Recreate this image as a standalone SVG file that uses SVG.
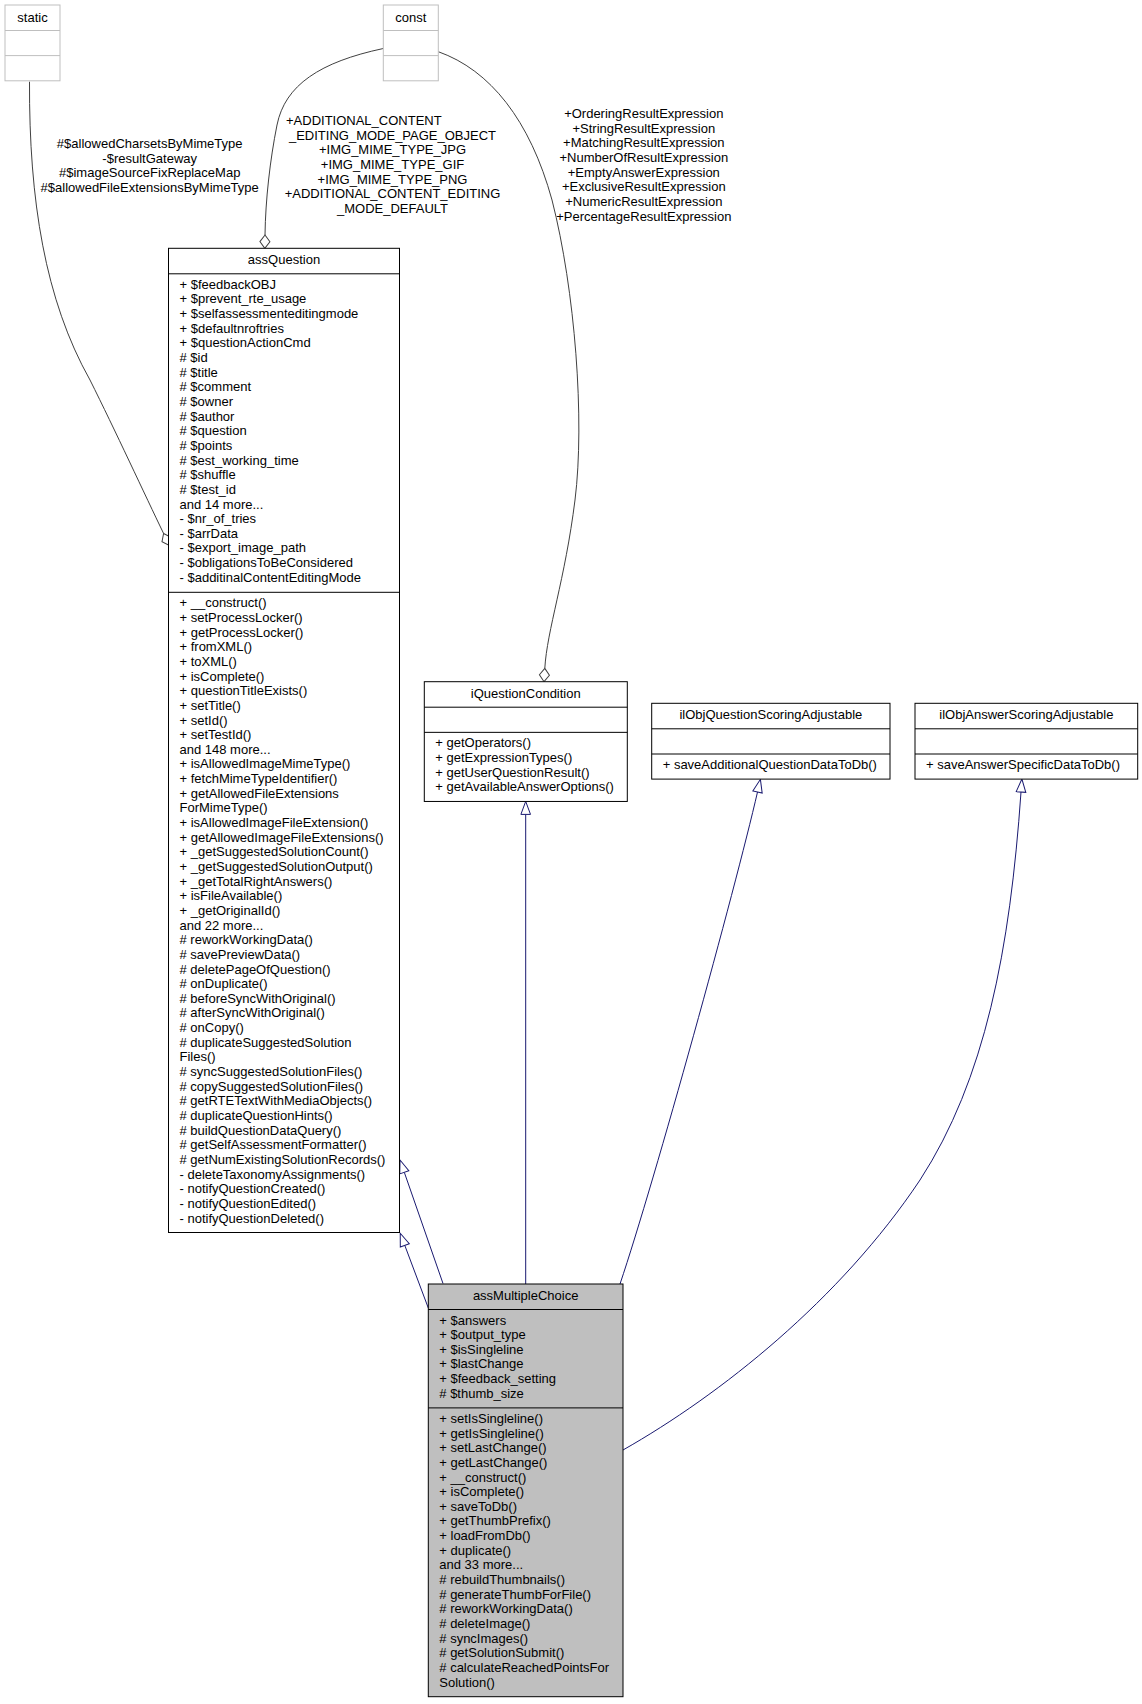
<svg xmlns="http://www.w3.org/2000/svg" width="1142" height="1704" viewBox="0 0 1142 1704">
<style>
.t{font-family:"Liberation Sans",Arial,Helvetica,sans-serif;font-size:13px;fill:#000}
.c{text-anchor:middle}
.box{fill:#fff;stroke:#000;stroke-width:1}
.ext{fill:#fff;stroke:#bfbfbf;stroke-width:1}
.cur{fill:#bfbfbf;stroke:#000;stroke-width:1}
.sep{stroke:#000;stroke-width:1}
.sepg{stroke:#bfbfbf;stroke-width:1}
.agg{fill:none;stroke:#404040;stroke-width:1}
.inh{fill:none;stroke:#191970;stroke-width:1}
</style>
<defs>
<marker id="tri" viewBox="0 0 13 9.6" refX="0" refY="4.8" markerWidth="13" markerHeight="9.6" markerUnits="userSpaceOnUse" orient="auto" overflow="visible">
<path d="M0,0 L13,4.8 L0,9.6 Z" fill="#fff" stroke="#191970" stroke-width="1"/>
</marker>
<marker id="dia" viewBox="0 0 13.3 10" refX="0" refY="5" markerWidth="13.3" markerHeight="10" markerUnits="userSpaceOnUse" orient="auto" overflow="visible">
<path d="M0,5 L6.65,0 L13.3,5 L6.65,10 Z" fill="#fff" stroke="#404040" stroke-width="1"/>
</marker>
</defs>
<rect width="1142" height="1704" fill="#fff"/>

<g id="connectors">
<path class="agg" d="M29.5,81.7 C29,200 45,300 90,380 C115,430 145,495 163.6,533.5" marker-end="url(#dia)"/>
<text class="t c"><tspan x="149.7" y="148">#$allowedCharsetsByMimeType</tspan><tspan x="149.7" dy="14.65">-$resultGateway</tspan><tspan x="149.7" dy="14.65">#$imageSourceFixReplaceMap</tspan><tspan x="149.7" dy="14.65">#$allowedFileExtensionsByMimeType</tspan></text>

<path class="agg" d="M383.3,48.5 C320,62 285,85 277,125 C270,160 265.5,200 265,235" marker-end="url(#dia)"/>
<text class="t"><tspan x="286" y="125">+ADDITIONAL_CONTENT</tspan></text>
<text class="t c"><tspan x="392.5" y="139.65">_EDITING_MODE_PAGE_OBJECT</tspan><tspan x="392.5" dy="14.65">+IMG_MIME_TYPE_JPG</tspan><tspan x="392.5" dy="14.65">+IMG_MIME_TYPE_GIF</tspan><tspan x="392.5" dy="14.65">+IMG_MIME_TYPE_PNG</tspan><tspan x="392.5" dy="14.65">+ADDITIONAL_CONTENT_EDITING</tspan><tspan x="392.5" dy="14.65">_MODE_DEFAULT</tspan></text>

<path class="agg" d="M438.3,51.7 C490,70 530,120 552,200 C575,290 585,420 575,500 C565,580 547,630 544.8,668.4" marker-end="url(#dia)"/>
<text class="t c"><tspan x="643.8" y="118">+OrderingResultExpression</tspan><tspan x="643.8" dy="14.65">+StringResultExpression</tspan><tspan x="643.8" dy="14.65">+MatchingResultExpression</tspan><tspan x="643.8" dy="14.65">+NumberOfResultExpression</tspan><tspan x="643.8" dy="14.65">+EmptyAnswerExpression</tspan><tspan x="643.8" dy="14.65">+ExclusiveResultExpression</tspan><tspan x="643.8" dy="14.65">+NumericResultExpression</tspan><tspan x="643.8" dy="14.65">+PercentageResultExpression</tspan></text>

<path class="inh" d="M443,1283.5 L404.3,1172.3" marker-end="url(#tri)"/>
<path class="inh" d="M428.3,1308 L404.8,1245.4" marker-end="url(#tri)"/>
<path class="inh" d="M525.7,1284 L525.7,814.4" marker-end="url(#tri)"/>
<path class="inh" d="M620,1284 C655,1180 735,890 757.5,792" marker-end="url(#tri)"/>
<path class="inh" d="M623,1450 C720,1395 840,1300 920,1180 C985,1080 1010,950 1021,792" marker-end="url(#tri)"/>
</g>

<g id="static">
<rect class="ext" x="5" y="5" width="55" height="75.8"/>
<line class="sepg" x1="5" y1="30.5" x2="60" y2="30.5"/>
<line class="sepg" x1="5" y1="55.6" x2="60" y2="55.6"/>
<text class="t c" x="32.5" y="22">static</text>
</g>

<g id="const">
<rect class="ext" x="383.3" y="5" width="55" height="75.8"/>
<line class="sepg" x1="383.3" y1="30.5" x2="438.3" y2="30.5"/>
<line class="sepg" x1="383.3" y1="55.6" x2="438.3" y2="55.6"/>
<text class="t c" x="410.8" y="22">const</text>
</g>

<g id="assQuestion">
<rect class="box" x="168.5" y="248.3" width="231" height="984.2"/>
<line class="sep" x1="168.5" y1="273.8" x2="399.5" y2="273.8"/>
<line class="sep" x1="168.5" y1="592.3" x2="399.5" y2="592.3"/>
<text class="t c" x="284" y="264.3">assQuestion</text>
<text class="t"><tspan x="179.5" y="288.8">+ $feedbackOBJ</tspan><tspan x="179.5" dy="14.65">+ $prevent_rte_usage</tspan><tspan x="179.5" dy="14.65">+ $selfassessmenteditingmode</tspan><tspan x="179.5" dy="14.65">+ $defaultnroftries</tspan><tspan x="179.5" dy="14.65">+ $questionActionCmd</tspan><tspan x="179.5" dy="14.65"># $id</tspan><tspan x="179.5" dy="14.65"># $title</tspan><tspan x="179.5" dy="14.65"># $comment</tspan><tspan x="179.5" dy="14.65"># $owner</tspan><tspan x="179.5" dy="14.65"># $author</tspan><tspan x="179.5" dy="14.65"># $question</tspan><tspan x="179.5" dy="14.65"># $points</tspan><tspan x="179.5" dy="14.65"># $est_working_time</tspan><tspan x="179.5" dy="14.65"># $shuffle</tspan><tspan x="179.5" dy="14.65"># $test_id</tspan><tspan x="179.5" dy="14.65">and 14 more...</tspan><tspan x="179.5" dy="14.65">- $nr_of_tries</tspan><tspan x="179.5" dy="14.65">- $arrData</tspan><tspan x="179.5" dy="14.65">- $export_image_path</tspan><tspan x="179.5" dy="14.65">- $obligationsToBeConsidered</tspan><tspan x="179.5" dy="14.65">- $additinalContentEditingMode</tspan></text>
<text class="t"><tspan x="179.5" y="607.3">+ __construct()</tspan><tspan x="179.5" dy="14.65">+ setProcessLocker()</tspan><tspan x="179.5" dy="14.65">+ getProcessLocker()</tspan><tspan x="179.5" dy="14.65">+ fromXML()</tspan><tspan x="179.5" dy="14.65">+ toXML()</tspan><tspan x="179.5" dy="14.65">+ isComplete()</tspan><tspan x="179.5" dy="14.65">+ questionTitleExists()</tspan><tspan x="179.5" dy="14.65">+ setTitle()</tspan><tspan x="179.5" dy="14.65">+ setId()</tspan><tspan x="179.5" dy="14.65">+ setTestId()</tspan><tspan x="179.5" dy="14.65">and 148 more...</tspan><tspan x="179.5" dy="14.65">+ isAllowedImageMimeType()</tspan><tspan x="179.5" dy="14.65">+ fetchMimeTypeIdentifier()</tspan><tspan x="179.5" dy="14.65">+ getAllowedFileExtensions</tspan><tspan x="179.5" dy="14.65">ForMimeType()</tspan><tspan x="179.5" dy="14.65">+ isAllowedImageFileExtension()</tspan><tspan x="179.5" dy="14.65">+ getAllowedImageFileExtensions()</tspan><tspan x="179.5" dy="14.65">+ _getSuggestedSolutionCount()</tspan><tspan x="179.5" dy="14.65">+ _getSuggestedSolutionOutput()</tspan><tspan x="179.5" dy="14.65">+ _getTotalRightAnswers()</tspan><tspan x="179.5" dy="14.65">+ isFileAvailable()</tspan><tspan x="179.5" dy="14.65">+ _getOriginalId()</tspan><tspan x="179.5" dy="14.65">and 22 more...</tspan><tspan x="179.5" dy="14.65"># reworkWorkingData()</tspan><tspan x="179.5" dy="14.65"># savePreviewData()</tspan><tspan x="179.5" dy="14.65"># deletePageOfQuestion()</tspan><tspan x="179.5" dy="14.65"># onDuplicate()</tspan><tspan x="179.5" dy="14.65"># beforeSyncWithOriginal()</tspan><tspan x="179.5" dy="14.65"># afterSyncWithOriginal()</tspan><tspan x="179.5" dy="14.65"># onCopy()</tspan><tspan x="179.5" dy="14.65"># duplicateSuggestedSolution</tspan><tspan x="179.5" dy="14.65">Files()</tspan><tspan x="179.5" dy="14.65"># syncSuggestedSolutionFiles()</tspan><tspan x="179.5" dy="14.65"># copySuggestedSolutionFiles()</tspan><tspan x="179.5" dy="14.65"># getRTETextWithMediaObjects()</tspan><tspan x="179.5" dy="14.65"># duplicateQuestionHints()</tspan><tspan x="179.5" dy="14.65"># buildQuestionDataQuery()</tspan><tspan x="179.5" dy="14.65"># getSelfAssessmentFormatter()</tspan><tspan x="179.5" dy="14.65"># getNumExistingSolutionRecords()</tspan><tspan x="179.5" dy="14.65">- deleteTaxonomyAssignments()</tspan><tspan x="179.5" dy="14.65">- notifyQuestionCreated()</tspan><tspan x="179.5" dy="14.65">- notifyQuestionEdited()</tspan><tspan x="179.5" dy="14.65">- notifyQuestionDeleted()</tspan></text>
</g>

<g id="iQuestionCondition">
<rect class="box" x="424.3" y="681.7" width="203" height="119.75"/>
<line class="sep" x1="424.3" y1="707.2" x2="627.3" y2="707.2"/>
<line class="sep" x1="424.3" y1="732.35" x2="627.3" y2="732.35"/>
<text class="t c" x="525.8" y="697.7">iQuestionCondition</text>
<text class="t"><tspan x="435.3" y="747.35">+ getOperators()</tspan><tspan x="435.3" dy="14.65">+ getExpressionTypes()</tspan><tspan x="435.3" dy="14.65">+ getUserQuestionResult()</tspan><tspan x="435.3" dy="14.65">+ getAvailableAnswerOptions()</tspan></text>
</g>

<g id="ilObjQuestionScoringAdjustable">
<rect class="box" x="651.7" y="703.3" width="238.3" height="75.8"/>
<line class="sep" x1="651.7" y1="728.8" x2="890" y2="728.8"/>
<line class="sep" x1="651.7" y1="754" x2="890" y2="754"/>
<text class="t c" x="770.85" y="719.3">ilObjQuestionScoringAdjustable</text>
<text class="t" x="662.7" y="769">+ saveAdditionalQuestionDataToDb()</text>
</g>

<g id="ilObjAnswerScoringAdjustable">
<rect class="box" x="915" y="703.3" width="222.7" height="75.8"/>
<line class="sep" x1="915" y1="728.8" x2="1137.7" y2="728.8"/>
<line class="sep" x1="915" y1="754" x2="1137.7" y2="754"/>
<text class="t c" x="1026.35" y="719.3">ilObjAnswerScoringAdjustable</text>
<text class="t" x="926" y="769">+ saveAnswerSpecificDataToDb()</text>
</g>

<g id="assMultipleChoice">
<rect class="cur" x="428.3" y="1284" width="194.7" height="412.7"/>
<line class="sep" x1="428.3" y1="1309.5" x2="623" y2="1309.5"/>
<line class="sep" x1="428.3" y1="1407.9" x2="623" y2="1407.9"/>
<text class="t c" x="525.65" y="1300">assMultipleChoice</text>
<text class="t"><tspan x="439.3" y="1324.5">+ $answers</tspan><tspan x="439.3" dy="14.65">+ $output_type</tspan><tspan x="439.3" dy="14.65">+ $isSingleline</tspan><tspan x="439.3" dy="14.65">+ $lastChange</tspan><tspan x="439.3" dy="14.65">+ $feedback_setting</tspan><tspan x="439.3" dy="14.65"># $thumb_size</tspan></text>
<text class="t"><tspan x="439.3" y="1422.9">+ setIsSingleline()</tspan><tspan x="439.3" dy="14.65">+ getIsSingleline()</tspan><tspan x="439.3" dy="14.65">+ setLastChange()</tspan><tspan x="439.3" dy="14.65">+ getLastChange()</tspan><tspan x="439.3" dy="14.65">+ __construct()</tspan><tspan x="439.3" dy="14.65">+ isComplete()</tspan><tspan x="439.3" dy="14.65">+ saveToDb()</tspan><tspan x="439.3" dy="14.65">+ getThumbPrefix()</tspan><tspan x="439.3" dy="14.65">+ loadFromDb()</tspan><tspan x="439.3" dy="14.65">+ duplicate()</tspan><tspan x="439.3" dy="14.65">and 33 more...</tspan><tspan x="439.3" dy="14.65"># rebuildThumbnails()</tspan><tspan x="439.3" dy="14.65"># generateThumbForFile()</tspan><tspan x="439.3" dy="14.65"># reworkWorkingData()</tspan><tspan x="439.3" dy="14.65"># deleteImage()</tspan><tspan x="439.3" dy="14.65"># syncImages()</tspan><tspan x="439.3" dy="14.65"># getSolutionSubmit()</tspan><tspan x="439.3" dy="14.65"># calculateReachedPointsFor</tspan><tspan x="439.3" dy="14.65">Solution()</tspan></text>
</g>
</svg>
